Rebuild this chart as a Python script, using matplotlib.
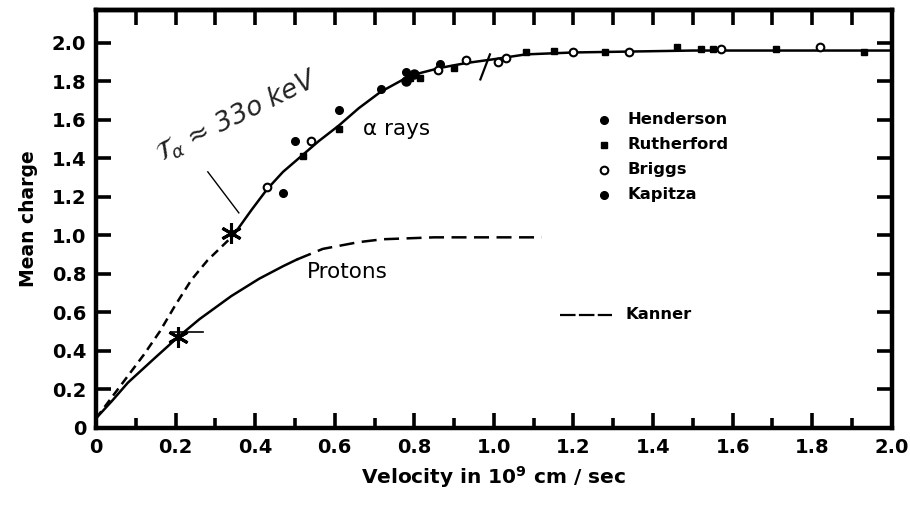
#! /usr/bin/env python
"""Mean charge of alpha rays and protons versus velocity."""


### import ########################################################################################


import numpy as np

import matplotlib
matplotlib.use('Agg')
import matplotlib.pyplot as plt
from matplotlib.ticker import MultipleLocator, FixedLocator


### data ##########################################################################################


# alpha rays, dashed part (origin up to the marked star)
alpha_dash_v = [0.00, 0.04, 0.08, 0.12, 0.16, 0.20, 0.24, 0.28, 0.345]
alpha_dash_q = [0.05, 0.16, 0.27, 0.38, 0.50, 0.64, 0.77, 0.87, 1.00]

# alpha rays, solid curve
alpha_v = [0.345, 0.39, 0.43, 0.47, 0.515, 0.56, 0.61, 0.66, 0.715, 0.79, 0.865, 0.93, 1.00,
           1.08, 1.20, 1.50, 2.00]
alpha_q = [1.00, 1.13, 1.24, 1.33, 1.41, 1.49, 1.57, 1.66, 1.745, 1.83, 1.87, 1.895, 1.915,
           1.94, 1.95, 1.96, 1.96]

# protons, solid then dashed
proton_v = [0.00, 0.04, 0.08, 0.146, 0.205, 0.26, 0.34, 0.41, 0.47, 0.505]
proton_q = [0.05, 0.14, 0.235, 0.36, 0.47, 0.565, 0.685, 0.775, 0.84, 0.875]
proton_dash_v = [0.505, 0.57, 0.66, 0.72, 0.85, 1.00, 1.12]
proton_dash_q = [0.875, 0.93, 0.965, 0.98, 0.99, 0.99, 0.99]

# measured points
henderson_v = [0.47, 0.50, 0.61, 0.715, 0.78, 0.865]
henderson_q = [1.22, 1.49, 1.65, 1.76, 1.85, 1.89]
rutherford_v = [0.52, 0.61, 0.79, 0.815, 0.90, 1.08, 1.15, 1.28, 1.46, 1.52, 1.55, 1.71, 1.93]
rutherford_q = [1.41, 1.55, 1.82, 1.82, 1.87, 1.95, 1.96, 1.95, 1.98, 1.97, 1.97, 1.97, 1.95]
briggs_v = [0.43, 0.54, 0.86, 0.93, 1.01, 1.03, 1.20, 1.34, 1.57, 1.82]
briggs_q = [1.25, 1.49, 1.86, 1.91, 1.90, 1.92, 1.95, 1.95, 1.97, 1.98]
kapitza_v = [0.78, 0.80]
kapitza_q = [1.80, 1.84]

# hand marks
stars_v = [0.34, 0.205]
stars_q = [1.01, 0.47]

xticks = [0, 0.2, 0.4, 0.6, 0.8, 1.0, 1.2, 1.4, 1.6, 1.8, 2.0]
xticklabels = ['0', '0.2', '0.4', '0.6', '0.8', '1.0', '1.2', '1.4', '1.6', '1.8', '2.0']
yticks = [0, 0.2, 0.4, 0.6, 0.8, 1.0, 1.2, 1.4, 1.6, 1.8, 2.0]
yticklabels = ['0', '0.2', '0.4', '0.6', '0.8', '1.0', '1.2', '1.4', '1.6', '1.8', '2.0']

legend_names = ['Henderson', 'Rutherford', 'Briggs', 'Kapitza']
legend_q = [1.60, 1.47, 1.34, 1.21]


### figure ########################################################################################


matplotlib.rcParams['font.family'] = 'DejaVu Sans'

fig = plt.figure(figsize=(9.1, 5.05), dpi=100)
ax = fig.add_axes([0.1055, 0.1525, 0.8745, 0.8275])
k = 'black'

# curves
ax.plot(alpha_dash_v, alpha_dash_q, color=k, lw=1.8, ls=(0, (3.5, 2.2)))
ax.plot(alpha_v, alpha_q, color=k, lw=1.8)
ax.plot(proton_v, proton_q, color=k, lw=1.8)
ax.plot(proton_dash_v, proton_dash_q, color=k, lw=1.8, ls=(0, (6, 3)))

# points
ax.plot(henderson_v, henderson_q, 'o', color=k, ms=5.5)
ax.plot(rutherford_v, rutherford_q, 's', color=k, ms=4.5)
ax.plot(briggs_v, briggs_q, 'o', mfc='white', mec=k, mew=1.5, ms=5.5)
ax.plot(kapitza_v, kapitza_q, 'o', color=k, ms=6.5)

# hand drawn stars and marks
ax.plot(stars_v, stars_q, ls='none', marker=(6, 2, 0), color=k, ms=15, mew=2.2)
ax.plot([0.19, 0.27], [0.50, 0.50], color=k, lw=1.2)
ax.plot([0.281, 0.359], [1.33, 1.117], color=k, lw=1.0)
ax.plot([0.966, 0.99], [1.81, 1.94], color=k, lw=1.6)
ax.text(0.355, 1.62, r'$\mathcal{T}_\alpha$ ≈ 33o keV', rotation=26, ha='center', va='center',
        fontsize=19, style='italic', fontweight='light', color='#222222')

# labels on the plot
ax.text(0.67, 1.55, 'α rays', fontsize=15.5, ha='left', va='center')
ax.text(0.53, 0.81, 'Protons', fontsize=15.5, ha='left', va='center')

# legend drawn by hand
legend_style = [dict(marker='o', color=k, ms=5.5),
                dict(marker='s', color=k, ms=4.5),
                dict(marker='o', mfc='white', mec=k, mew=1.5, ms=5.5),
                dict(marker='o', color=k, ms=5.5)]
for name, q, st in zip(legend_names, legend_q, legend_style):
    ax.plot([1.277], [q], ls='none', **st)
    ax.text(1.337, q, name, fontsize=11.8, fontweight='bold', ha='left', va='center')
ax.plot([1.167, 1.297], [0.587, 0.587], color=k, lw=1.6, ls=(0, (7, 1.5)))
ax.text(1.33, 0.587, 'Kanner', fontsize=11.8, fontweight='bold', ha='left', va='center')

# axes
ax.set_xlim(0, 2.0)
ax.set_ylim(0, 2.17)
ax.xaxis.set_major_locator(FixedLocator(xticks))
ax.set_xticklabels(xticklabels)
ax.xaxis.set_minor_locator(MultipleLocator(0.1))
ax.yaxis.set_major_locator(FixedLocator(yticks))
ax.set_yticklabels(yticklabels)
for s in ax.spines.values():
    s.set_linewidth(3.2)
ax.tick_params(axis='both', which='major', direction='in', length=11, width=2.6,
               labelsize=14, pad=7)
ax.tick_params(axis='x', which='minor', direction='in', length=7, width=2.6)
ax.tick_params(axis='y', which='major', right=True)
for lab in ax.get_xticklabels() + ax.get_yticklabels():
    lab.set_fontweight('bold')

top = ax.secondary_xaxis('top')
top.set_xticks(np.arange(0.1, 2.0, 0.1))
top.tick_params(direction='in', length=11, width=2.6, labeltop=False)
top.spines['top'].set_linewidth(3.2)

ax.set_xlabel(r'Velocity in 10$^{\mathbf{9}}$ cm / sec', fontsize=14.5, fontweight='bold',
              labelpad=5)
ax.set_ylabel('Mean charge', fontsize=13.5, fontweight='bold', labelpad=10)

# save
fig.savefig('out.png', dpi=100)
plt.close(fig)
